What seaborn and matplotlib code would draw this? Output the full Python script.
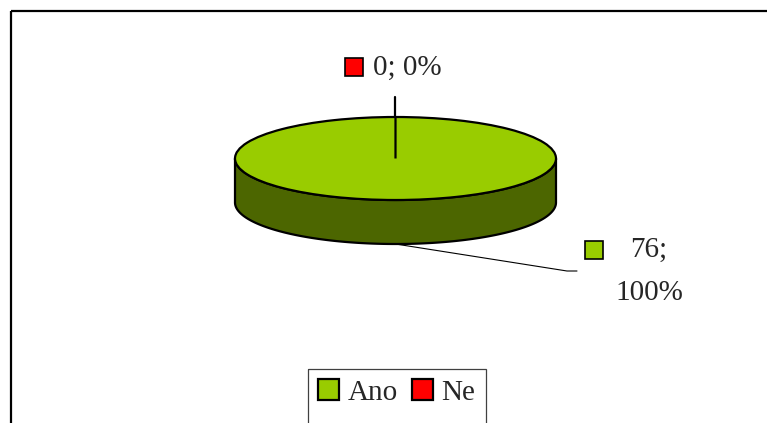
import numpy as np
import matplotlib
matplotlib.use("Agg")
import matplotlib.pyplot as plt
from matplotlib.patches import Rectangle, Polygon
from matplotlib.lines import Line2D
import seaborn as sns

# Survey answers
categories = ["Ano", "Ne"]
counts = [76, 0]
top_colors = ["#99CC00", "#FF0000"]
side_colors = ["#4C6600", "#800000"]

sns.set_theme(style="white")
plt.rcParams["font.family"] = ["Liberation Serif", "DejaVu Serif"]

W, H = 767, 423
fig = plt.figure(figsize=(W / 100, H / 100), dpi=100)
fig.patch.set_facecolor("white")

# Pixel-space overlay for frame, labels and legend
ov = fig.add_axes([0, 0, 1, 1])
ov.set_xlim(0, W)
ov.set_ylim(H, 0)
ov.axis("off")
ov.add_patch(Rectangle((11, 11), W + 50, H + 50, fill=False,
                       edgecolor="black", linewidth=1.6, zorder=1))

# Pie geometry (pixels): centre, semi-axes and thickness of the disc
cx, cy = 395.5, 158.5
rx, ry = 160.5, 41.5
depth = 44 / ry
xl = (-1.1, 1.1)
yl = (-1 - depth - 0.25, 1.2)
left_px = cx + xl[0] * rx
top_px = cy - yl[1] * ry
w_px = (xl[1] - xl[0]) * rx
h_px = (yl[1] - yl[0]) * ry
ax = fig.add_axes([left_px / W, 1 - (top_px + h_px) / H, w_px / W, h_px / H])

total = sum(counts)
fracs = [c / total for c in counts]

# wedge angle spans, clockwise from 12 o'clock
spans = []
a = 90.0
for f in fracs:
    spans.append((a - 360 * f, a))
    a -= 360 * f

# visible side walls (front half of the disc)
for (t1, t2), col in zip(spans, side_colors):
    for k in range(-2, 2):
        lo = max(t1, 180 + 360 * k)
        hi = min(t2, 360 + 360 * k)
        if hi - lo > 1e-9:
            th = np.radians(np.linspace(lo, hi, 300))
            upper = np.column_stack([np.cos(th), np.sin(th)])
            lower = np.column_stack([np.cos(th), np.sin(th) - depth])[::-1]
            ax.add_patch(Polygon(np.vstack([upper, lower]), closed=True,
                                 facecolor=col, edgecolor="black",
                                 linewidth=1.6, zorder=0.5))

wedges, _ = ax.pie(counts, colors=top_colors, startangle=90, counterclock=False,
                   radius=1, normalize=True,
                   wedgeprops=dict(edgecolor="black", linewidth=1.6))
ax.set_xlim(*xl)
ax.set_ylim(*yl)
ax.set_aspect("auto")
ax.axis("off")


def to_px(pt):
    return ov.transData.inverted().transform(ax.transData.transform(pt))


label_fs = 21
sq = 18
for i, ((t1, t2), c, f) in enumerate(zip(spans, counts, fracs)):
    mid = np.radians((t1 + t2) / 2)
    pct = round(100 * f)
    if np.sin(mid) < 0:
        anchor = to_px((np.cos(mid), np.sin(mid) - depth))
        ov.add_line(Line2D([anchor[0], 567, 577], [anchor[1], 271, 271],
                           color="black", linewidth=0.8))
        ov.add_patch(Rectangle((585, 241), sq, sq, facecolor=top_colors[i],
                               edgecolor="black", linewidth=1.2))
        ov.text(630, 250, f"{c};", fontsize=label_fs, ha="left", va="center")
        ov.text(649, 293, f"{pct}%", fontsize=label_fs, ha="center", va="center")
    else:
        anchor = to_px((np.cos(mid), np.sin(mid)))
        ov.add_line(Line2D([anchor[0], anchor[0]], [anchor[1], 97],
                           color="black", linewidth=1.6))
        ov.add_patch(Rectangle((345, 58), sq, sq, facecolor=top_colors[i],
                               edgecolor="black", linewidth=1.2))
        ov.text(373, 68, f"{c}; {pct}%", fontsize=label_fs, ha="left", va="center")

leg = ov.legend(wedges, categories, ncol=2, loc="upper center",
                bbox_to_anchor=(397 / W, 1 - 369 / H), bbox_transform=fig.transFigure,
                frameon=False, fontsize=label_fs, handlelength=0.7, handleheight=0.7,
                handletextpad=0.3, columnspacing=0.5, borderpad=0.35,
                borderaxespad=0)

# legend box runs past the lower edge of the chart area
fig.canvas.draw()
bb = leg.get_window_extent()
(x0, _), (x1, _) = ov.transData.inverted().transform([[bb.x0, bb.y0], [bb.x1, bb.y1]])
ov.add_patch(Rectangle((x0, 369), x1 - x0, H + 20 - 369, fill=False,
                       edgecolor="#404040", linewidth=0.9, zorder=3))

fig.savefig("out.png", dpi=100, facecolor="white")
